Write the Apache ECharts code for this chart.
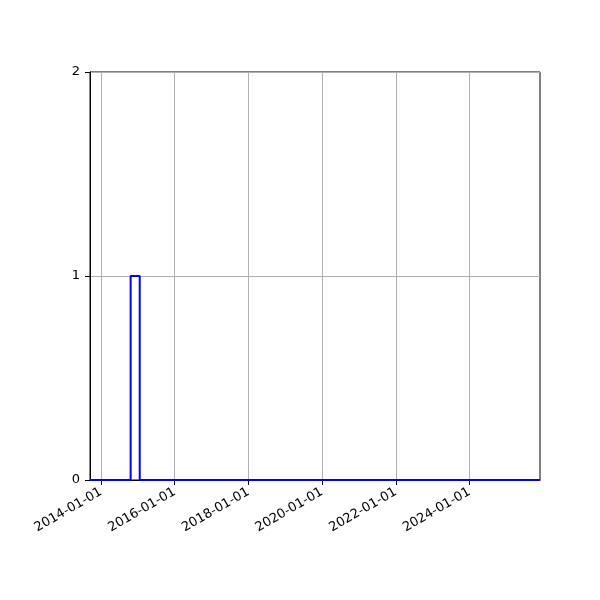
<!DOCTYPE html>
<html>
<head>
<meta charset="utf-8">
<script src="https://cdn.jsdelivr.net/npm/echarts@6/dist/echarts.min.js"></script>
<style>
  html, body { margin: 0; padding: 0; background: #fff; }
  #chart { width: 600px; height: 600px; }
</style>
</head>
<body>
<div id="chart"></div>
<script>
// histogram bin edges (dates) and counts per bin
const binEdges = ['2013-09-13', '2014-10-21', '2015-01-19', '2025-12-01'];
const counts = [0, 1, 0];

const xTicks = ['2014-01-01', '2016-01-01', '2018-01-01', '2020-01-01', '2022-01-01', '2024-01-01'];
const yTicks = [0, 1, 2];

const toTs = d => new Date(d + 'T00:00:00Z').getTime();
const fmtDate = v => {
  const d = new Date(v);
  const p = n => String(n).padStart(2, '0');
  return d.getUTCFullYear() + '-' + p(d.getUTCMonth() + 1) + '-' + p(d.getUTCDate());
};

// step line: each edge carries the count of the bin that starts there
const stepData = binEdges.map((e, i) => [toTs(e), counts[Math.min(i, counts.length - 1)]]);
const tickValues = xTicks.map(toTs);

const chart = echarts.init(document.getElementById('chart'), null, { renderer: 'canvas' });

chart.setOption({
  animation: false,
  backgroundColor: '#ffffff',
  textStyle: { fontFamily: 'DejaVu Sans' },
  grid: {
    left: 90,
    right: 60,
    top: 72,
    bottom: 120,
    show: true,
    borderColor: '#000000',
    borderWidth: 1,
    backgroundColor: 'transparent'
  },
  xAxis: {
    type: 'value',
    min: toTs(binEdges[0]),
    max: toTs(binEdges[binEdges.length - 1]),
    axisLine: { show: true, lineStyle: { color: '#000', width: 1 } },
    axisTick: {
      show: true,
      length: 5,
      customValues: tickValues,
      lineStyle: { color: '#000', width: 1 }
    },
    axisLabel: {
      customValues: tickValues,
      rotate: 30,
      margin: 11,
      color: '#000',
      fontSize: 13,
      fontFamily: 'DejaVu Sans',
      formatter: fmtDate
    },
    splitLine: { show: true, lineStyle: { color: '#b0b0b0', width: 1 } }
  },
  yAxis: {
    type: 'value',
    min: yTicks[0],
    max: yTicks[yTicks.length - 1],
    interval: 1,
    axisLine: { show: true, lineStyle: { color: '#000', width: 1 } },
    axisTick: { show: true, length: 5, lineStyle: { color: '#000', width: 1 } },
    axisLabel: { color: '#000', fontSize: 13, margin: 10, fontFamily: 'DejaVu Sans' },
    splitLine: { show: true, lineStyle: { color: '#b0b0b0', width: 1 } }
  },
  series: [{
    type: 'line',
    step: 'end',
    data: stepData,
    symbol: 'none',
    clip: false,
    lineStyle: { color: '#0000ff', width: 2 }
  }]
});
</script>
</body>
</html>
